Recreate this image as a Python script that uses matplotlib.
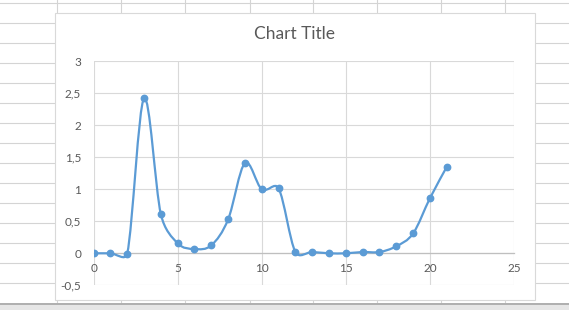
import numpy as np
import matplotlib
matplotlib.use('Agg')
import matplotlib.pyplot as plt
from matplotlib.path import Path
from matplotlib.patches import PathPatch, Rectangle

# data
x_vals = [0, 1, 2, 3, 4, 5, 6, 7, 8, 9, 10, 11, 12, 13, 14, 15, 16, 17, 18, 19, 20, 21]
y_vals = [0.0, 0.0, -0.005, 2.42, 0.61, 0.156, 0.067, 0.125, 0.53, 1.41, 1.0, 1.016,
          0.02, 0.02, 0.0, 0.0, 0.02, 0.02, 0.11, 0.31, 0.86, 1.35]
x_ticks = [0, 5, 10, 15, 20, 25]
y_ticks = [-0.5, 0, 0.5, 1, 1.5, 2, 2.5, 3]
y_labels = ['-0,5', '0', '0,5', '1', '1,5', '2', '2,5', '3']
title = 'Chart Title'

W, H = 569, 310
plt.rcParams['font.family'] = ['Lato', 'DejaVu Sans']
fig = plt.figure(figsize=(W / 100, H / 100), dpi=100)

# --- spreadsheet background ---
bg = fig.add_axes([0, 0, 1, 1])
bg.set_xlim(0, W)
bg.set_ylim(H, 0)
bg.axis('off')
for yy in np.arange(2.5, 300, 20):
    bg.axhline(yy, color='#d4d4d4', lw=0.8, zorder=0)
for xx in [57, 121.5, 185, 250, 313.5, 377, 441, 505.5]:
    bg.axvline(xx, color='#d4d4d4', lw=0.8, zorder=0)
bg.add_patch(Rectangle((0, 303), W, H - 303, facecolor='#e6e6e6', edgecolor='none', zorder=1))
bg.axhline(303.5, color='#a6a6a6', lw=1.2, zorder=2)
bg.add_patch(Rectangle((55.5, 12.5), 535 - 55.5, 300 - 12.5, facecolor='white',
                       edgecolor='#d9d9d9', lw=0.8, zorder=3))
bg.text(295, 34, title, ha='center', va='center', fontsize=12.5, color='#595959', zorder=4)

# --- plot area ---
left, right, top, bottom = 93.6, 514, 61.3, 285.3
ax = fig.add_axes([left / W, (H - bottom) / H, (right - left) / W, (bottom - top) / H])
ax.set_facecolor('none')
ax.set_xlim(0, 25)
ax.set_ylim(-0.5, 3)
ax.set_xticks(x_ticks)
ax.set_yticks(y_ticks)
ax.set_yticklabels(y_labels)
ax.grid(True, color='#d9d9d9', lw=0.8)
ax.set_axisbelow(True)
for s in ['top', 'right', 'left']:
    ax.spines[s].set_visible(False)
ax.spines['bottom'].set_position(('data', 0))
ax.spines['bottom'].set_color('#bfbfbf')
ax.spines['bottom'].set_linewidth(0.9)
ax.tick_params(axis='both', length=0, labelsize=8.5, labelcolor='#595959')
ax.tick_params(axis='x', pad=7)
ax.tick_params(axis='y', pad=9)

# smoothed line like Excel: bezier segments, control arms capped at half the segment length
sx = (right - left) / 25.0
sy = (bottom - top) / 3.5
P = np.column_stack([np.array(x_vals, float) * sx, np.array(y_vals, float) * sy])
n = len(P)
verts = [tuple(P[0])]
codes = [Path.MOVETO]
for i in range(n - 1):
    p0 = P[max(i - 1, 0)]
    p1 = P[i]
    p2 = P[i + 1]
    p3 = P[min(i + 2, n - 1)]
    half = np.linalg.norm(p2 - p1) / 2
    t1 = (p2 - p0) / 6
    t2 = (p3 - p1) / 6
    if np.linalg.norm(t1) > half:
        t1 = t1 / np.linalg.norm(t1) * half
    if np.linalg.norm(t2) > half:
        t2 = t2 / np.linalg.norm(t2) * half
    c1 = p1 + t1
    c2 = p2 - t2
    verts += [tuple(c1), tuple(c2), tuple(p2)]
    codes += [Path.CURVE4] * 3
verts = [(vx / sx, vy / sy) for vx, vy in verts]
ax.add_patch(PathPatch(Path(verts, codes), facecolor='none', edgecolor='#5b9bd5',
                       lw=1.6, capstyle='round', joinstyle='round', zorder=3))
ax.plot(x_vals, y_vals, linestyle='none', marker='o', ms=4.6, color='#5b9bd5', zorder=4)

fig.savefig('out.png', dpi=100)
